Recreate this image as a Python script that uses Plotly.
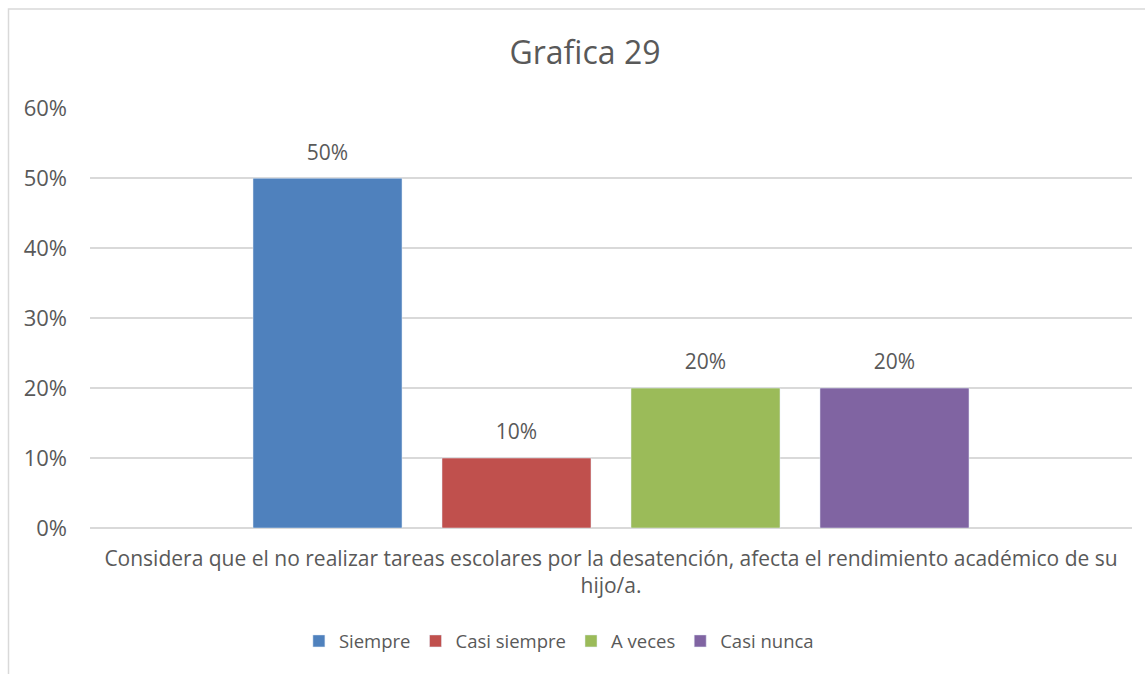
import plotly.graph_objects as go

title = "Grafica 29"
category = ["Considera que el no realizar tareas escolares por la desatención, afecta el rendimiento académico de su<br>hijo/a."]
series_names = ["Siempre", "Casi siempre", "A veces", "Casi nunca"]
series_values = [0.50, 0.10, 0.20, 0.20]
series_colors = ["#4F81BD", "#C0504D", "#9BBB59", "#8064A2"]
y_ticks = [0, 0.1, 0.2, 0.3, 0.4, 0.5, 0.6]

FONT = "Open Sans"
TXT = "#595959"

fig = go.Figure()
for i, (name, val, col) in enumerate(zip(series_names, series_values, series_colors)):
    fig.add_trace(go.Bar(
        x=category, y=[val], name=name, marker_color=col,
        offsetgroup=str(i), hoverinfo="skip",
    ))
# data labels, aligned with the grouped bars
for i, (name, val) in enumerate(zip(series_names, series_values)):
    fig.add_trace(go.Scatter(
        x=category, y=[val], mode="markers+text", offsetgroup=str(i),
        marker=dict(size=20, opacity=0), text=[f"{val:.0%}"],
        textposition="top center", showlegend=False, hoverinfo="skip",
        textfont=dict(family=FONT, size=21, color=TXT), cliponaxis=False,
    ))

fig.update_layout(
    width=1145, height=674,
    margin=dict(l=90, r=13, t=108, b=146),
    paper_bgcolor="white", plot_bgcolor="white",
    barmode="group", bargap=0.2745, bargroupgap=0.2116,
    scattermode="group", scattergap=0.2745,
    title=dict(text=title, x=0.5109, xanchor="center", y=0.922, yanchor="middle",
               font=dict(family=FONT, size=32, color=TXT)),
    font=dict(family=FONT, color=TXT),
    xaxis=dict(showgrid=False, showline=False, ticks="", ticklabelstandoff=16,
               tickfont=dict(family=FONT, size=21, color=TXT)),
    yaxis=dict(range=[0, 0.6005], tickvals=y_ticks, tickformat=".0%",
               showgrid=True, gridcolor="#D9D9D9", gridwidth=1.5,
               zeroline=True, zerolinecolor="#D9D9D9", zerolinewidth=1.5,
               showline=False, ticks="", ticklabelstandoff=22,
               tickfont=dict(family=FONT, size=22, color=TXT)),
    legend=dict(orientation="h", x=0.45, xanchor="center", y=-0.27, yanchor="middle",
                font=dict(family=FONT, size=18.5, color=TXT),
                itemclick=False, traceorder="normal"),
    showlegend=True,
    shapes=[dict(type="rect", xref="paper", yref="paper",
                 x0=(8.5 - 90) / 1042, x1=1.2, y0=-0.6, y1=(528 - 9) / 420,
                 line=dict(color="#D9D9D9", width=1.5), fillcolor="rgba(0,0,0,0)",
                 layer="below")],
)

fig.write_html("out.html", config={"displayModeBar": False},
               post_script="document.body.style.margin='0';")
